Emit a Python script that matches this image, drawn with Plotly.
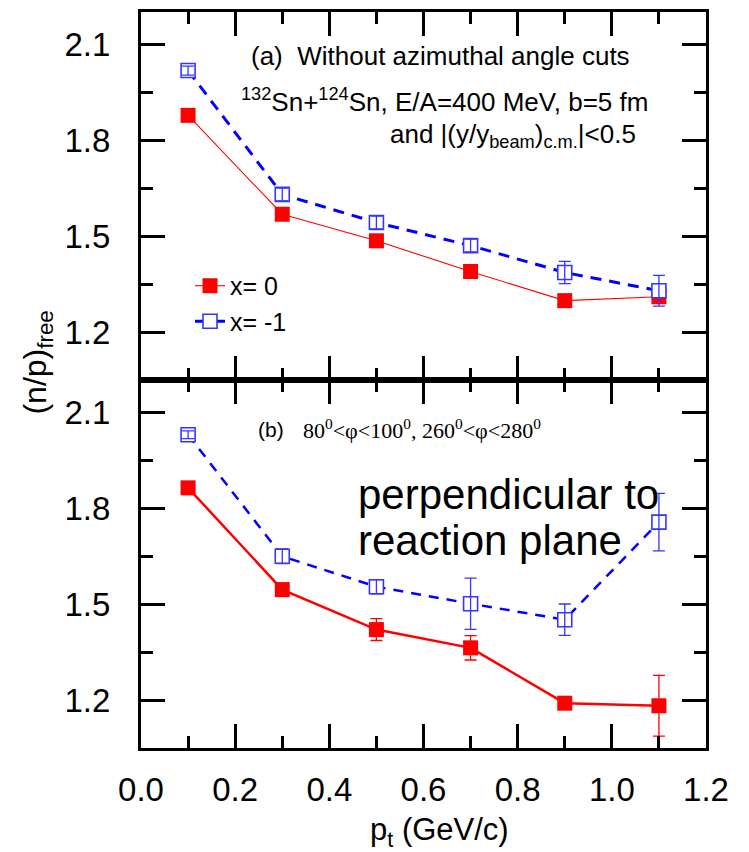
import plotly.graph_objects as go
from plotly.subplots import make_subplots

# ---------------- data ----------------
pt = [0.1, 0.3, 0.5, 0.7, 0.9, 1.1]

# panel (a): without azimuthal angle cuts
a_x0 = [1.877, 1.568, 1.485, 1.389, 1.298, 1.310]
a_x0_err = [0.010, 0.010, 0.012, 0.012, 0.012, 0.020]
a_xm1 = [2.017, 1.630, 1.542, 1.470, 1.386, 1.329]
a_xm1_err = [0.014, 0.020, 0.020, 0.020, 0.035, 0.048]

# panel (b): perpendicular to reaction plane
b_x0 = [1.863, 1.545, 1.420, 1.363, 1.190, 1.182]
b_x0_err = [0.010, 0.012, 0.034, 0.038, 0.012, 0.095]
b_xm1 = [2.029, 1.649, 1.554, 1.501, 1.451, 1.756]
b_xm1_err = [0.012, 0.023, 0.022, 0.080, 0.049, 0.090]

x_ticks = [0.0, 0.2, 0.4, 0.6, 0.8, 1.0, 1.2]
y_ticks = [1.2, 1.5, 1.8, 2.1]

RED = "#ff0000"
BLUE = "#0000ff"
BLUE_M = "#3535ff"
SANS = "Liberation Sans, Arial, sans-serif"
SERIF = "Liberation Serif, Times New Roman, serif"

fig = make_subplots(rows=2, cols=1, shared_xaxes=True, vertical_spacing=0)


def add_panel(row, y0, e0, y1, e1, red_w, blue_w, blue_dash, legend):
    fig.add_trace(go.Scatter(
        x=pt, y=y0, mode="lines+markers", name="x= 0", showlegend=legend,
        line=dict(color=RED, width=red_w),
        marker=dict(symbol="square", size=15, color=RED, line=dict(width=0)),
        error_y=dict(type="data", array=e0, visible=True, color=RED,
                     thickness=1.3, width=6),
    ), row=row, col=1)
    fig.add_trace(go.Scatter(
        x=pt, y=y1, mode="lines+markers", name="x= -1", showlegend=legend,
        line=dict(color=BLUE, width=blue_w, dash=blue_dash),
        marker=dict(symbol="square", size=14, color="white",
                    line=dict(color=BLUE_M, width=1.6)),
    ), row=row, col=1)
    # blue error bars drawn above the white-filled squares
    fig.add_trace(go.Scatter(
        x=pt, y=y1, mode="markers", showlegend=False, hoverinfo="skip",
        marker=dict(size=1, color="rgba(0,0,0,0)"),
        error_y=dict(type="data", array=e1, visible=True, color=BLUE_M,
                     thickness=1.3, width=6),
    ), row=row, col=1)


add_panel(1, a_x0, a_x0_err, a_xm1, a_xm1_err, 1.1, 3, "11px,8px", True)
add_panel(2, b_x0, b_x0_err, b_xm1, b_xm1_err, 2.5, 2.5, "10px,8px", False)

axis_common = dict(
    showline=True, linewidth=3, linecolor="black", mirror="allticks",
    ticks="inside", tickwidth=2.5, tickcolor="black",
    showgrid=False, zeroline=False,
    tickfont=dict(family=SANS, size=33, color="black"),
)

for r in (1, 2):
    fig.update_xaxes(
        range=[0, 1.2], tickvals=x_ticks, ticktext=[f"{v:.1f}" for v in x_ticks],
        ticklen=24, ticklabelstandoff=10,
        minor=dict(dtick=0.1, tick0=0, ticks="inside", ticklen=12,
                   tickwidth=2.5, tickcolor="black"),
        showticklabels=(r == 2), row=r, col=1, **axis_common)
    fig.update_yaxes(
        range=[1.05, 2.2], tickvals=y_ticks, ticktext=[f"{v:.1f}" for v in y_ticks],
        ticklen=24, ticklabelstandoff=21,
        minor=dict(tickvals=[1.35, 1.65, 1.95], ticks="inside", ticklen=12,
                   tickwidth=2.5, tickcolor="black"),
        row=r, col=1, **axis_common)

# ---------------- text ----------------
L, R, T, B = 141, 43, 9, 104
W, H = 749, 852
PW, PH = W - L - R, H - T - B


def px(xp):
    return (xp - L) / PW


def py(yp):
    return (H - B - yp) / PH


def ann(text, x, y, size, xanchor="left", family=SANS, angle=0, yanchor="middle"):
    fig.add_annotation(text=text, x=px(x), y=py(y), xref="paper", yref="paper",
                       xanchor=xanchor, yanchor=yanchor, showarrow=False,
                       textangle=angle,
                       font=dict(family=family, size=size, color="black"))


ann("(a)  Without azimuthal angle cuts", 249, 53, 26)
ann("<sup>132</sup>Sn+<sup>124</sup>Sn, E/A=400 MeV, b=5 fm", 650, 98, 26, xanchor="right")
ann("and |(y/y<sub>beam</sub>)<sub>c.m.</sub>|&lt;0.5", 638, 133, 26, xanchor="right")
ann("(b)", 256, 428, 21)
ann("80<sup>0</sup>&lt;φ&lt;100<sup>0</sup>, 260<sup>0</sup>&lt;φ&lt;280<sup>0</sup>",
    301, 428, 22, family=SERIF)
ann("perpendicular to", 356, 493, 42)
ann("reaction plane", 356, 540, 42)
ann("(n/p)<sub>free</sub>", 38, 361, 32, xanchor="center", angle=-90)
ann("p<sub>t</sub> (GeV/c)", 439, 832, 31, xanchor="center")

fig.update_layout(
    width=W, height=H,
    margin=dict(l=L, r=R, t=T, b=B),
    paper_bgcolor="white", plot_bgcolor="white",
    showlegend=True,
    legend=dict(x=px(190), y=py(261), xanchor="left", yanchor="top",
                bgcolor="rgba(0,0,0,0)", font=dict(family=SANS, size=25, color="black"),
                tracegroupgap=0, itemsizing="trace"),
)

fig.write_html("out.html")
